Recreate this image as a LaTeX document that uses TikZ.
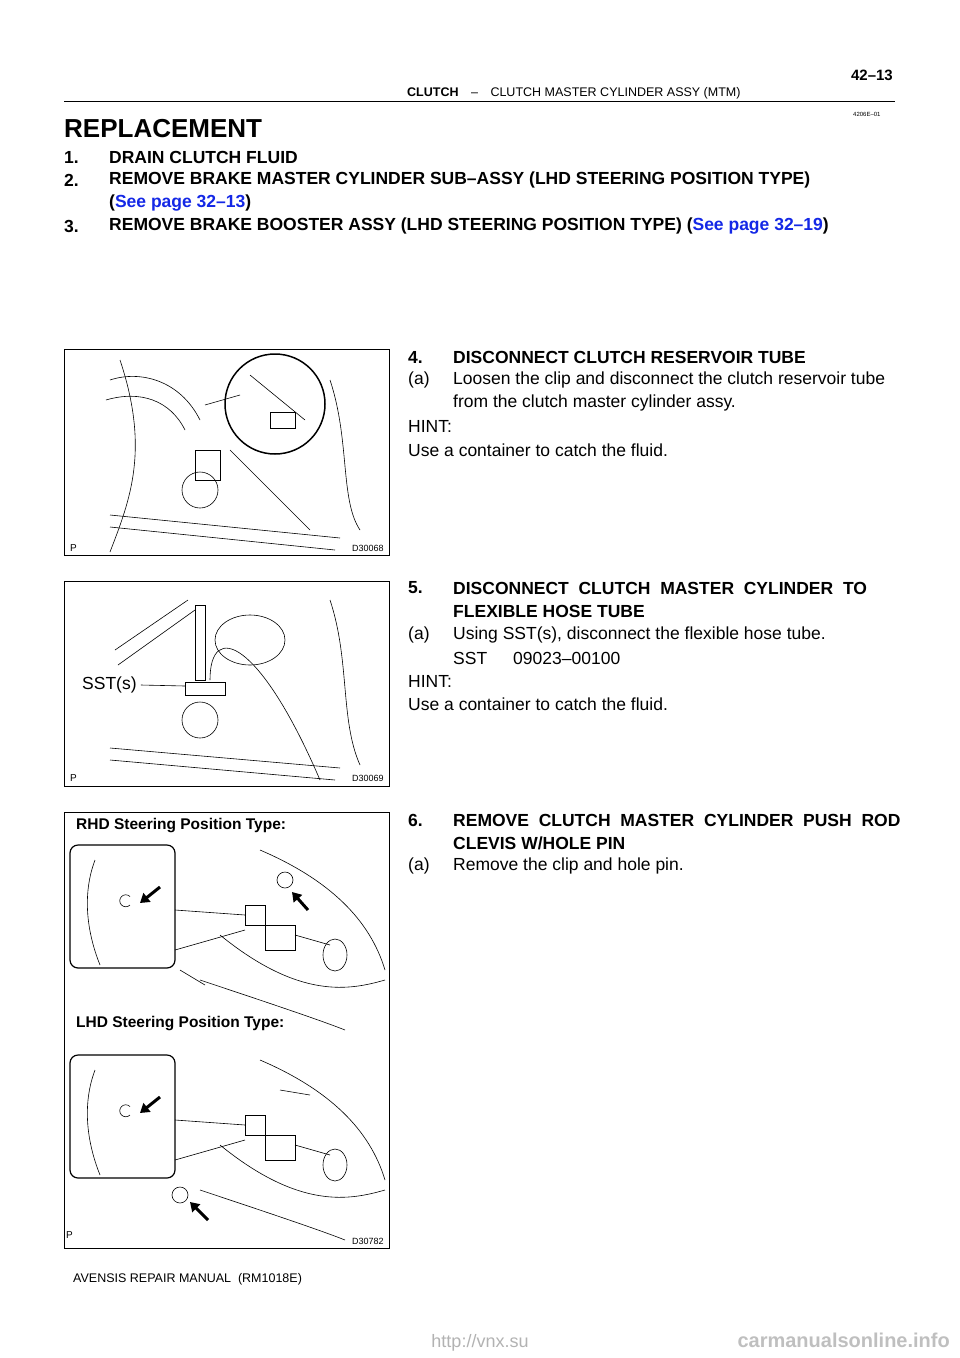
\documentclass[tikz,border=0pt]{standalone}
\usepackage{fontspec}
\setmainfont{Liberation Sans}
\usetikzlibrary{arrows.meta}
\definecolor{linkblue}{RGB}{20,40,230}
\tikzset{
  txt/.style={anchor=west,inner sep=0pt,font=\fontsize{17.5}{17.5}\selectfont},
  hd/.style={txt,font=\fontsize{17.5}{17.5}\selectfont\bfseries},
  small/.style={anchor=west,inner sep=0pt,font=\fontsize{10}{10}\selectfont},
  frame/.style={draw,line width=0.8pt},
  sketch/.style={line width=0.6pt},
  bigarrow/.style={line width=3pt,-{Triangle[length=9pt,width=11pt]}}
}
\begin{document}
\begin{tikzpicture}[x=1pt,y=-1pt]
    \useasboundingbox (0,0) rectangle (960,1358);
    % header
    \node[anchor=east,inner sep=0pt,font=\fontsize{15}{15}\selectfont\bfseries] (page) at (893,75) {42--13};
    \node[small,font=\fontsize{12.5}{12.5}\selectfont] (chap) at (407,93) {\textbf{CLUTCH}\quad--\quad CLUTCH MASTER CYLINDER ASSY (MTM)};
    \draw[line width=1pt] (64,101) -- (895,101);
    \node[small,font=\fontsize{6}{6}\selectfont] (code) at (853,114) {4206E--01};
    \node[anchor=west,inner sep=0pt,font=\fontsize{26}{26}\selectfont\bfseries] (title) at (64,129) {REPLACEMENT};
    % steps 1-3
    \node[hd] (n1) at (64,157) {1.}; \node[hd] (s1) at (109,157) {DRAIN CLUTCH FLUID};
    \node[hd] (n2) at (64,180) {2.}; \node[hd] (s2) at (109,180) {REMOVE BRAKE MASTER CYLINDER SUB--ASSY (LHD STEERING POSITION TYPE)};
    \node[hd] (s2b) at (109,203) {(\textcolor{linkblue}{See page 32--13})};
    \node[hd] (n3) at (64,226) {3.}; \node[hd] (s3) at (109,226) {REMOVE BRAKE BOOSTER ASSY (LHD STEERING POSITION TYPE) (\textcolor{linkblue}{See page 32--19})};
    % step 4
    \node[hd] (n4) at (408,357) {4.}; \node[hd] (s4) at (453,357) {DISCONNECT CLUTCH RESERVOIR TUBE};
    \node[txt] (a4) at (408,380) {(a)}; \node[txt] (t4) at (453,380) {Loosen the clip and disconnect the clutch reservoir tube};
    \node[txt] (t4b) at (453,403) {from the clutch master cylinder assy.};
    \node[txt] (h4) at (408,426) {HINT:};
    \node[txt] (u4) at (408,450) {Use a container to catch the fluid.};
    % step 5
    \node[hd] (n5) at (408,588) {5.}; \node[hd] (s5) at (453,588) {DISCONNECT\ \ CLUTCH\ \ MASTER\ \ CYLINDER\ \ TO};
    \node[hd] (s5b) at (453,611) {FLEXIBLE HOSE TUBE};
    \node[txt] (a5) at (408,635) {(a)}; \node[txt] (t5) at (453,635) {Using SST(s), disconnect the flexible hose tube.};
    \node[txt] (sst) at (453,658) {SST}; \node[txt] (sstno) at (513,658) {09023--00100};
    \node[txt] (h5) at (408,681) {HINT:};
    \node[txt] (u5) at (408,704) {Use a container to catch the fluid.};
    % step 6
    \node[hd] (n6) at (408,820) {6.}; \node[hd] (s6) at (453,820) {REMOVE\ \ CLUTCH\ \ MASTER\ \ CYLINDER\ \ PUSH\ \ ROD};
    \node[hd] (s6b) at (453,843) {CLEVIS W/HOLE PIN};
    \node[txt] (a6) at (408,866) {(a)}; \node[txt] (t6) at (453,866) {Remove the clip and hole pin.};
    % figure 1
    \draw[frame] (64,349) rectangle (389,555);
    \draw[sketch] (110,380) .. controls (140,370) and (180,380) .. (200,420);
    \draw[sketch] (106,400) .. controls (140,390) and (170,400) .. (185,430);
    \draw[sketch] (195,450) rectangle (220,480);
    \draw[sketch] (200,490) circle (18);
    \draw[sketch] (110,515) -- (340,538); \draw[sketch] (110,527) -- (335,550);
    \draw[sketch] (120,360) .. controls (150,450) and (130,500) .. (110,552);
    \draw[sketch] (330,380) .. controls (350,440) and (340,500) .. (360,530);
    \draw[sketch] (230,450) -- (310,530);
    \draw[line width=1.5pt,fill=white] (275,404) circle (50);
    \draw[sketch] (205,405) -- (240,395);
    \draw[sketch] (250,375) -- (305,420); \draw[sketch] (270,412) rectangle (295,428);
    \node[small] (p1) at (70,548) {P};
    \node[small,font=\fontsize{9}{9}\selectfont] (d1) at (352,548) {D30068};
    % figure 2
    \draw[frame] (64,581) rectangle (389,786);
    \draw[sketch] (118,665) -- (195,610); \draw[sketch] (115,650) -- (188,600);
    \draw[sketch] (195,605) rectangle (205,680);
    \draw[sketch] (185,682) rectangle (225,695);
    \draw[sketch] (210,680) .. controls (210,620) and (260,640) .. (320,780);
    \draw[sketch] (200,720) circle (18);
    \draw[sketch] (110,748) -- (340,768); \draw[sketch] (110,760) -- (335,780);
    \draw[sketch] (250,640) ellipse (35 and 25);
    \draw[sketch] (330,600) .. controls (350,660) and (340,720) .. (360,765);
    \node[txt] (sstl) at (82,685) {SST(s)};
    \draw[sketch] (sstl.east) ++(4,0) -- (185,686);
    \node[small] (p2) at (70,778) {P};
    \node[small,font=\fontsize{9}{9}\selectfont] (d2) at (352,778) {D30069};
    % figure 3
    \draw[frame] (64,812) rectangle (389,1248);
    \node[hd,font=\fontsize{15.5}{15.5}\selectfont\bfseries] (rhd) at (76,826) {RHD Steering Position Type:};
    \node[hd,font=\fontsize{15.5}{15.5}\selectfont\bfseries] (lhd) at (76,1024) {LHD Steering Position Type:};
    \foreach \dy in {0,210} {
      \draw[line width=1.2pt,rounded corners=8pt] (70,845+\dy) rectangle (175,968+\dy);
      \draw[sketch] (175,910+\dy) -- (245,915+\dy); \draw[sketch] (175,950+\dy) -- (245,930+\dy);
      \draw[sketch] (130,905+\dy) arc (45:315:6);
      \draw[bigarrow] (160,887+\dy) -- (140,903+\dy);
      \draw[sketch] (95,860+\dy) .. controls (80,900+\dy) and (90,940+\dy) .. (100,965+\dy);
      \draw[sketch] (245,905+\dy) rectangle (265,925+\dy);
      \draw[sketch] (265,925+\dy) rectangle (295,950+\dy);
      \draw[sketch] (295,935+\dy) -- (330,945+\dy);
      \draw[sketch] (335,955+\dy) ellipse (12 and 16);
      \draw[sketch] (220,935+\dy) .. controls (300,1000+\dy) and (350,990+\dy) .. (385,980+\dy);
      \draw[sketch] (260,850+\dy) .. controls (330,880+\dy) and (370,920+\dy) .. (385,970+\dy);
      \draw[sketch] (200,980+\dy) .. controls (260,1000+\dy) and (320,1020+\dy) .. (345,1030+\dy);
    }
    \draw[sketch] (285,880) circle (8); \draw[bigarrow] (308,910) -- (292,892);
    \draw[sketch] (180,970) -- (205,985);
    \draw[sketch] (280,1090) -- (310,1095);
    \draw[sketch] (180,1195) circle (8); \draw[bigarrow] (208,1220) -- (190,1202);
    \node[small] (p3) at (66,1235) {P};
    \node[small,font=\fontsize{9}{9}\selectfont] (d3) at (352,1241) {D30782};
    % footer
    \node[small,font=\fontsize{12.5}{12.5}\selectfont] (foot) at (73,1279) {AVENSIS REPAIR MANUAL \ (RM1018E)};
    \node[inner sep=0pt,font=\fontsize{18}{18}\selectfont,text=gray!60] (wm1) at (480,1343) {http://vnx.su};
    \node[anchor=east,inner sep=0pt,font=\fontsize{20}{20}\selectfont\bfseries,text=gray!50] (wm2) at (950,1340) {carmanualsonline.info};
\end{tikzpicture}
\end{document}
